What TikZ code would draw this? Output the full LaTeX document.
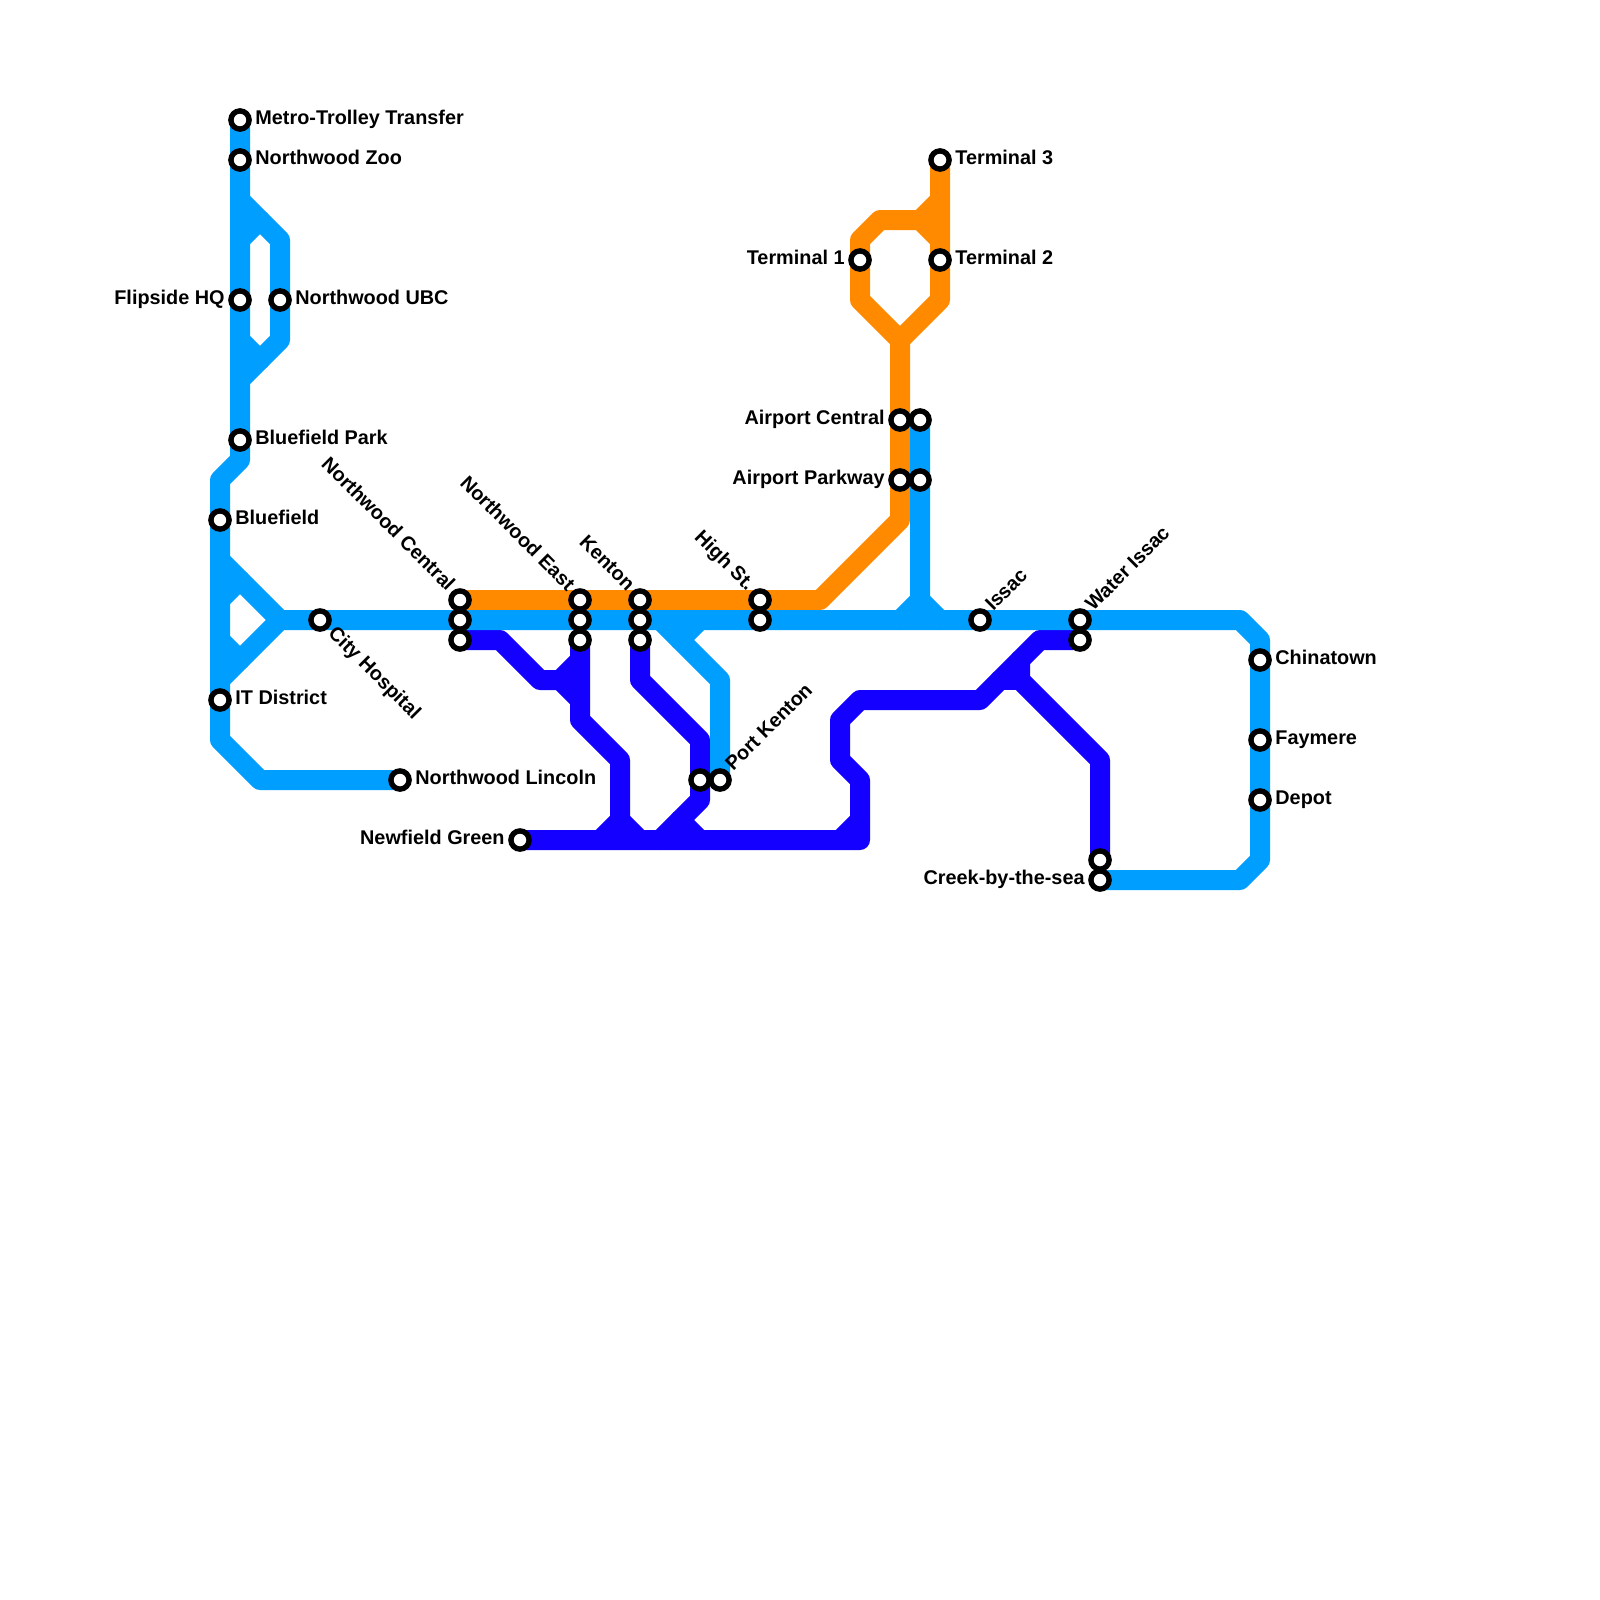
\documentclass[tikz,border=0pt]{standalone}
\usepackage{fontspec}
\setmainfont{Liberation Sans}
\usetikzlibrary{backgrounds}
\definecolor{lineblue}{RGB}{0,158,255}
\definecolor{lineorange}{RGB}{255,138,0}
\definecolor{linedeep}{RGB}{20,0,255}
\tikzset{
  x=0.5pt,y=-0.5pt,
  stop/.style={circle,draw=black,fill=white,line width=2.7pt,minimum size=9.1pt,inner sep=0pt,outer sep=0pt},
  route/.style={line width=10pt,line join=round,line cap=round},
  blueline/.style={route,draw=lineblue},
  orangeline/.style={route,draw=lineorange},
  deepline/.style={route,draw=linedeep},
  lab/.style={font=\fontsize{9.92}{11}\selectfont\bfseries,inner sep=0pt,text=black},
  labr/.style={lab,anchor=base west},
  labl/.style={lab,anchor=base east},
}
\begin{document}
\begin{tikzpicture}
\useasboundingbox (0,0) rectangle (1600,1600);
% stations
\node[stop] (metro) at (240,120) {};
\node[stop] (zoo) at (240,160) {};
\node[stop] (flipside) at (240,300) {};
\node[stop] (ubc) at (280,300) {};
\node[stop] (bfpark) at (240,440) {};
\node[stop] (bluefield) at (220,520) {};
\node[stop] (itd) at (220,700) {};
\node[stop] (city) at (320,620) {};
\node[stop] (lincoln) at (400,780) {};
\node[stop] (newfield) at (520,840) {};
\node[stop] (ncA) at (460,600) {};
\node[stop] (ncB) at (460,620) {};
\node[stop] (ncC) at (460,640) {};
\node[stop] (neA) at (580,600) {};
\node[stop] (neB) at (580,620) {};
\node[stop] (neC) at (580,640) {};
\node[stop] (kenA) at (640,600) {};
\node[stop] (kenB) at (640,620) {};
\node[stop] (kenC) at (640,640) {};
\node[stop] (highA) at (760,600) {};
\node[stop] (highB) at (760,620) {};
\node[stop] (pkA) at (700,780) {};
\node[stop] (pkB) at (720,780) {};
\node[stop] (termA) at (860,260) {};
\node[stop] (termC) at (940,160) {};
\node[stop] (termB) at (940,260) {};
\node[stop] (acA) at (900,420) {};
\node[stop] (acB) at (920,420) {};
\node[stop] (apA) at (900,480) {};
\node[stop] (apB) at (920,480) {};
\node[stop] (issac) at (980,620) {};
\node[stop] (waterA) at (1080,620) {};
\node[stop] (waterB) at (1080,640) {};
\node[stop] (creekA) at (1100,860) {};
\node[stop] (creekB) at (1100,880) {};
\node[stop] (china) at (1260,660) {};
\node[stop] (fay) at (1260,740) {};
\node[stop] (depot) at (1260,800) {};
% labels
\node[labr] (lmetro) at (255,125) {Metro-Trolley Transfer};
\node[labr] (lzoo) at (255,164.5) {Northwood Zoo};
\node[labl] (lflip) at (225,304.5) {Flipside HQ};
\node[labr] (lubc) at (295,304.5) {Northwood UBC};
\node[labr] (lbfp) at (255,444.5) {Bluefield Park};
\node[labr] (lbf) at (235,524) {Bluefield};
\node[labr] (litd) at (235,704.5) {IT District};
\node[labr] (llin) at (415,784) {Northwood Lincoln};
\node[labl] (lnew) at (505,844) {Newfield Green};
\node[labl] (lt1) at (845,264) {Terminal 1};
\node[labr] (lt3) at (955,164) {Terminal 3};
\node[labr] (lt2) at (955,264) {Terminal 2};
\node[labl] (lac) at (885,424) {Airport Central};
\node[labl] (lap) at (885,484) {Airport Parkway};
\node[labl] (lcr) at (1085,884) {Creek-by-the-sea};
\node[labr] (lch) at (1275,664) {Chinatown};
\node[labr] (lfa) at (1275,744) {Faymere};
\node[labr] (lde) at (1275,804) {Depot};
\node[lab,anchor=base east,rotate=-45] (lnc) at (447,592) {Northwood Central};
\node[lab,anchor=base east,rotate=-45] (lne) at (567,592) {Northwood East};
\node[lab,anchor=base east,rotate=-45] (lke) at (627,592) {Kenton};
\node[lab,anchor=base east,rotate=-45] (lhs) at (747,592) {High St.};
\node[lab,anchor=base west,rotate=-45] (lci) at (327,634) {City Hospital};
\node[lab,anchor=base west,rotate=45] (lpk) at (733,772) {Port Kenton};
\node[lab,anchor=base west,rotate=45] (lis) at (993,612) {Issac};
\node[lab,anchor=base west,rotate=45] (lwa) at (1093,612) {Water Issac};
% lines
\begin{scope}[on background layer]
\fill[white] (0,0) rectangle (1600,1600);
\draw[deepline] (ncC.center) -- (500,640) -- (540,680) -- (560,680) -- (580,660);
\draw[deepline] (560,680) -- (580,700);
\draw[deepline] (neC.center) -- (580,720) -- (620,760) -- (620,820) -- (600,840);
\draw[deepline] (620,820) -- (640,840);
\draw[deepline] (kenC.center) -- (640,680) -- (700,740) -- (pkA.center) -- (700,800) -- (660,840);
\draw[deepline] (680,820) -- (700,840);
\draw[deepline] (newfield.center) -- (860,840) -- (860,780) -- (840,760) -- (840,720) -- (860,700) -- (980,700) -- (1040,640) -- (waterB.center);
\draw[deepline] (860,820) -- (840,840);
\draw[deepline] (1020,660) -- (1020,680) -- (1100,760) -- (creekA.center);
\draw[deepline] (1000,680) -- (1020,680);
\draw[orangeline] (ncA.center) -- (820,600) -- (900,520) -- (acA.center) -- (900,340) -- (860,300) -- (termA.center) -- (860,240) -- (880,220) -- (920,220) -- (940,240);
\draw[orangeline] (termC.center) -- (termB.center) -- (940,300) -- (900,340);
\draw[orangeline] (920,220) -- (940,200);
\draw[blueline] (metro.center) -- (240,460) -- (220,480) -- (220,740) -- (260,780) -- (lincoln.center);
\draw[blueline] (240,200) -- (280,240) -- (ubc.center) -- (280,340) -- (240,380);
\draw[blueline] (240,240) -- (260,220);
\draw[blueline] (240,340) -- (260,360);
\draw[blueline] (220,560) -- (280,620) -- (220,680);
\draw[blueline] (220,600) -- (240,580);
\draw[blueline] (220,640) -- (240,660);
\draw[blueline] (280,620) -- (1240,620) -- (1260,640) -- (1260,860) -- (1240,880) -- (creekB.center);
\draw[blueline] (acB.center) -- (920,600) -- (900,620);
\draw[blueline] (920,600) -- (940,620);
\draw[blueline] (660,620) -- (720,680) -- (pkB.center);
\draw[blueline] (700,620) -- (680,640);
\end{scope}
\end{tikzpicture}
\end{document}
